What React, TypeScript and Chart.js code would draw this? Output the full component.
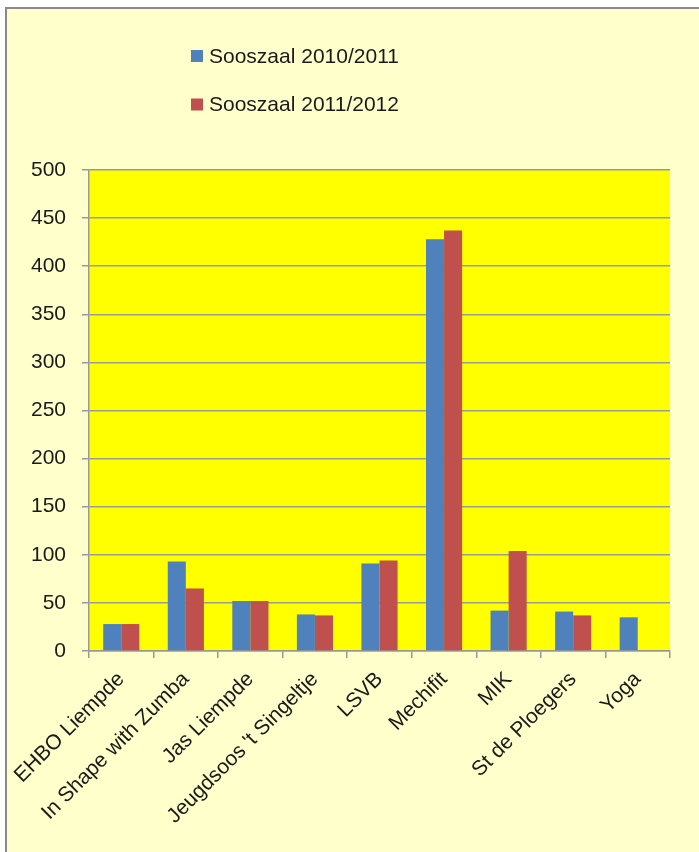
import React, { useEffect, useRef } from "react";
import { Chart, registerables } from "chart.js";

Chart.register(...registerables);

const categories = [
  "EHBO Liempde",
  "In Shape with Zumba",
  "Jas Liempde",
  "Jeugdsoos 't Singeltje",
  "LSVB",
  "Mechifit",
  "MIK",
  "St de Ploegers",
  "Yoga",
];
const series1Label = "Sooszaal 2010/2011";
const series2Label = "Sooszaal 2011/2012";
const series1 = [28, 93, 52, 38, 91, 428, 42, 41, 35];
const series2 = [28, 65, 52, 37, 94, 437, 104, 37, null];

const FONT = "'Liberation Sans', Arial, sans-serif";

const legendPlugin = {
  id: "vertLegend",
  afterDraw(chart: any) {
    const ctx = chart.ctx;
    ctx.save();
    const items = chart.data.datasets;
    items.forEach((ds: any, i: number) => {
      const y = 56 + i * 48.5;
      ctx.fillStyle = ds.backgroundColor;
      ctx.fillRect(191, y - 6, 12, 12);
      ctx.fillStyle = "#1a1a1a";
      ctx.font = `21px ${FONT}`;
      ctx.textBaseline = "middle";
      ctx.textAlign = "left";
      ctx.fillText(ds.label, 209, y + 1);
    });
    ctx.restore();
  },
};

export default function App() {
  const ref = useRef<HTMLCanvasElement>(null);
  useEffect(() => {
    if (!ref.current) return;
    const chart = new Chart(ref.current, {
      type: "bar",
      data: {
        labels: categories,
        datasets: [
          {
            label: series1Label,
            data: series1,
            backgroundColor: "#4F81BD",
            barPercentage: 1,
            categoryPercentage: 0.56,
          },
          {
            label: series2Label,
            data: series2 as any,
            backgroundColor: "#C0504D",
            barPercentage: 1,
            categoryPercentage: 0.56,
          },
        ],
      },
      options: {
        animation: false,
        responsive: false,
        maintainAspectRatio: false,
        layout: { padding: { top: 170, right: 29, left: 0, bottom: 0 } },
        plugins: {
          legend: { display: false },
          tooltip: { enabled: false },
        },
        scales: {
          x: {
            afterFit: (s: any) => {
              s.height = 201;
            },
            grid: {
              drawOnChartArea: false,
              drawTicks: true,
              tickLength: 7,
              color: "#999",
              lineWidth: 1.5,
              offset: true,
            },
            border: { color: "#999", width: 1.5 },
            ticks: {
              minRotation: 45,
              maxRotation: 45,
              autoSkip: false,
              padding: 9,
              color: "#1a1a1a",
              font: { family: FONT, size: 21 },
            },
          },
          y: {
            min: 0,
            max: 500,
            afterFit: (s: any) => {
              s.width = 89;
            },
            grid: {
              color: "#999",
              lineWidth: 1.5,
              tickLength: 7,
              drawTicks: true,
            },
            border: { color: "#999", width: 1.5 },
            ticks: {
              stepSize: 50,
              padding: 16,
              color: "#1a1a1a",
              font: { family: FONT, size: 21 },
            },
          },
        },
      },
      plugins: [
        legendPlugin,
        {
          id: "plotBg",
          beforeDraw(chart: any) {
            const { ctx, chartArea } = chart;
            ctx.save();
            ctx.fillStyle = "#FFFF00";
            ctx.fillRect(
              chartArea.left,
              chartArea.top,
              chartArea.right - chartArea.left,
              chartArea.bottom - chartArea.top
            );
            ctx.restore();
          },
        },
      ],
    });
    return () => chart.destroy();
  }, []);

  return (
    <div
      style={{
        position: "fixed",
        left: 0,
        top: 0,
        width: 699,
        height: 852,
        overflow: "hidden",
        background: "#ffffff",
      }}
    >
      <div
        style={{
          position: "absolute",
          left: 5,
          top: 7,
          width: 760,
          height: 900,
          border: "2px solid #8a8a8a",
          background: "#FFFFCC",
        }}
      />
      <canvas
        ref={ref}
        width={699}
        height={852}
        style={{ position: "absolute", left: 0, top: 0, width: 699, height: 852 }}
      />
    </div>
  );
}
